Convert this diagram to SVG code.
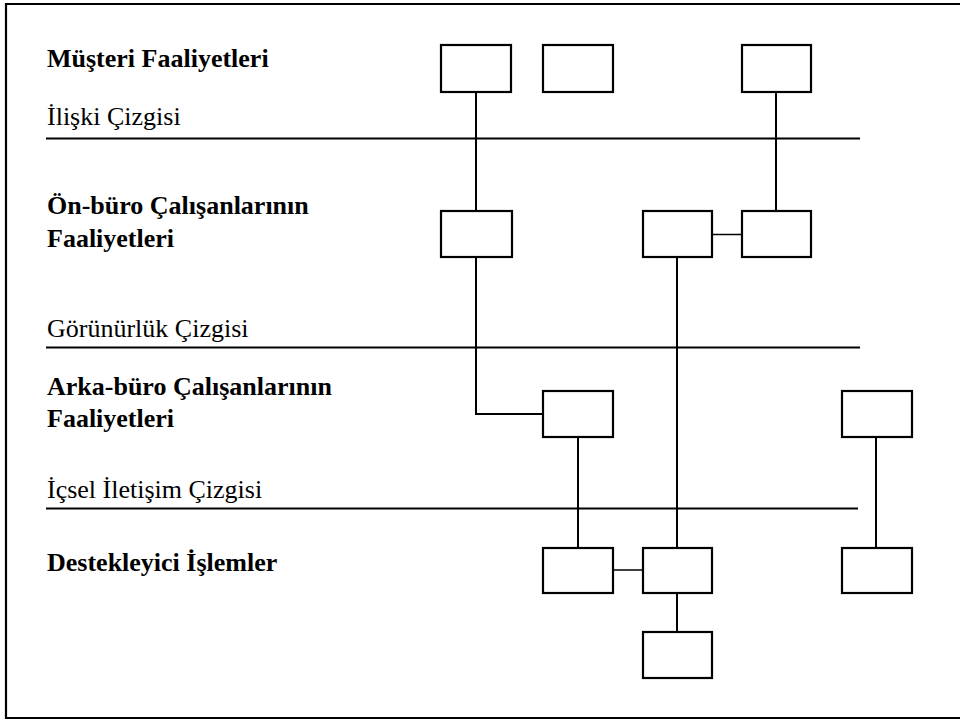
<svg xmlns="http://www.w3.org/2000/svg" width="960" height="722" viewBox="0 0 960 722">
  <style>
    .frame { fill: none; stroke: #000; stroke-width: 2.2; }
    .lane { stroke: #000; stroke-width: 1.8; }
    .box { fill: #fff; stroke: #000; stroke-width: 2.2; }
    .link { fill: none; stroke: #000; stroke-width: 2; }
    .link-thin { fill: none; stroke: #000; stroke-width: 1.5; }
    text { font-family: 'Liberation Serif', 'DejaVu Serif', 'Times New Roman', Times, serif; font-size: 26px; fill: #000; }
    .head { font-weight: bold; }
  </style>

  <rect width="960" height="722" fill="#fff"/>

  <!-- outer frame (open on the right) -->
  <path class="frame" d="M960,4 H6 V718 H960"/>

  <!-- row labels -->
  <g id="labels" font-family="'Liberation Serif', 'DejaVu Serif', serif">
    <text class="head" x="47" y="67">Müşteri Faaliyetleri</text>
    <text class="line-label" x="47" y="125">İlişki Çizgisi</text>
    <text class="head" x="47" y="214">Ön-büro Çalışanlarının</text>
    <text class="head" x="47" y="247">Faaliyetleri</text>
    <text class="line-label" x="47" y="337">Görünürlük Çizgisi</text>
    <text class="head" x="47" y="395">Arka-büro Çalışanlarının</text>
    <text class="head" x="47" y="427">Faaliyetleri</text>
    <text class="line-label" x="47" y="498">İçsel İletişim Çizgisi</text>
    <text class="head" x="47" y="571">Destekleyici İşlemler</text>
  </g>

  <!-- horizontal separation lines -->
  <g id="lanes">
    <line class="lane" x1="46" y1="138.5" x2="860" y2="138.5"/>
    <line class="lane" x1="46" y1="347.5" x2="860" y2="347.5"/>
    <line class="lane" x1="46" y1="508.5" x2="858" y2="508.5"/>
  </g>

  <!-- connectors -->
  <g id="connectors">
    <line class="link" x1="476" y1="92" x2="476" y2="211"/>
    <path class="link" d="M476,257 V414 H543"/>
    <line class="link" x1="776" y1="92" x2="776" y2="211"/>
    <line class="link-thin" x1="712" y1="234.5" x2="742" y2="234.5"/>
    <line class="link" x1="677" y1="257" x2="677" y2="548"/>
    <line class="link" x1="578" y1="437" x2="578" y2="548"/>
    <line class="link-thin" x1="613" y1="570" x2="643" y2="570"/>
    <line class="link" x1="677" y1="593" x2="677" y2="632"/>
    <line class="link" x1="876" y1="437" x2="876" y2="548"/>
  </g>

  <!-- customer actions -->
  <g id="c1"><rect class="box" x="441" y="45" width="70" height="47"/></g>
  <g id="c2"><rect class="box" x="543" y="45" width="70" height="47"/></g>
  <g id="c3"><rect class="box" x="742" y="45" width="69" height="47"/></g>

  <!-- front-office actions -->
  <g id="f1"><rect class="box" x="441" y="211" width="71" height="46"/></g>
  <g id="f2"><rect class="box" x="643" y="211" width="69" height="46"/></g>
  <g id="f3"><rect class="box" x="742" y="211" width="69" height="46"/></g>

  <!-- back-office actions -->
  <g id="b1"><rect class="box" x="543" y="391" width="70" height="46"/></g>
  <g id="b2"><rect class="box" x="842" y="391" width="70" height="46"/></g>

  <!-- support processes -->
  <g id="s1"><rect class="box" x="543" y="548" width="70" height="45"/></g>
  <g id="s2"><rect class="box" x="643" y="548" width="69" height="45"/></g>
  <g id="s3"><rect class="box" x="842" y="548" width="70" height="45"/></g>
  <g id="s4"><rect class="box" x="643" y="632" width="69" height="46"/></g>
</svg>
